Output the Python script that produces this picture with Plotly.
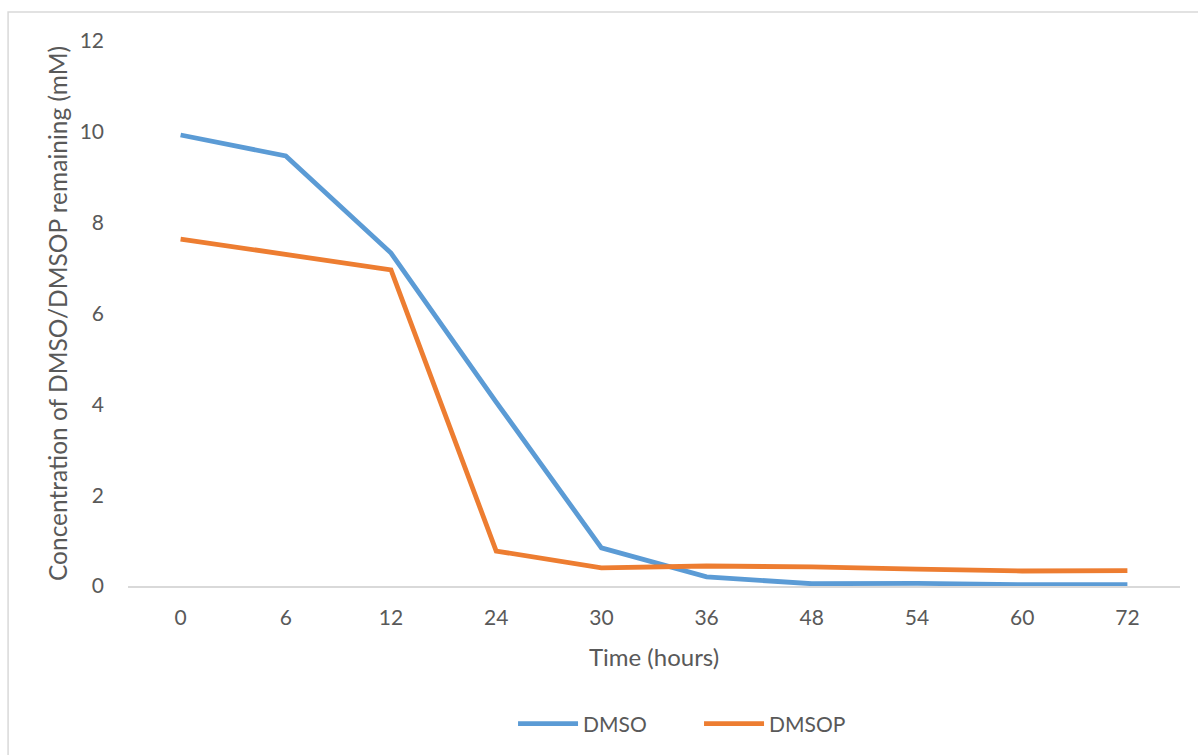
import plotly.graph_objects as go

# Sampling times (hours), shown as evenly spaced categories
time_labels = ["0", "6", "12", "24", "30", "36", "48", "54", "60", "72"]

# Remaining concentration (mM)
dmso = [9.93, 9.47, 7.33, 4.05, 0.84, 0.20, 0.05, 0.06, 0.03, 0.03]
dmsop = [7.64, 7.31, 6.96, 0.77, 0.40, 0.44, 0.42, 0.37, 0.33, 0.34]

FONT = "Lato"
TEXT = "#595959"
GRID = "#d9d9d9"

fig = go.Figure()
fig.add_trace(go.Scatter(x=time_labels, y=dmso, mode="lines", name="DMSO",
                         line=dict(color="#5B9BD5", width=4.8)))
fig.add_trace(go.Scatter(x=time_labels, y=dmsop, mode="lines", name="DMSOP",
                         line=dict(color="#ED7D31", width=4.8)))

fig.update_layout(
    width=1198, height=755,
    margin=dict(l=128, r=18, t=41, b=169, autoexpand=False),
    paper_bgcolor="white", plot_bgcolor="white",
    font=dict(family=FONT, color=TEXT, size=21),
    showlegend=True,
    legend=dict(orientation="h", x=0.366, xanchor="left", y=-0.253, yanchor="middle",
                font=dict(size=21, color=TEXT), itemwidth=60, tracegroupgap=0,
                entrywidth=111, entrywidthmode="pixels"),
    xaxis=dict(type="category", range=[-0.5, 9.5], showgrid=False, zeroline=False,
               showline=True, linecolor=GRID, linewidth=1.5,
               ticks="", tickfont=dict(size=21, color=TEXT), ticklabelstandoff=12,
               title=dict(text="Time (hours)", font=dict(size=24, color=TEXT), standoff=21),
               automargin=False),
    yaxis=dict(range=[0, 12], tickvals=[0, 2, 4, 6, 8, 10, 12], showgrid=False,
               zeroline=False, showline=False, ticks="",
               tickfont=dict(size=21, color=TEXT), ticklabelstandoff=23,
               title=dict(text="Concentration of DMSO/DMSOP remaining (mM)",
                          font=dict(size=24.5, color=TEXT), standoff=5),
               automargin=False),
    shapes=[dict(type="rect", xref="paper", yref="paper",
                 x0=-0.114, x1=1.05, y0=-0.35, y1=1.053,
                 line=dict(color=GRID, width=1.5), fillcolor="rgba(0,0,0,0)", layer="below")],
)

fig.write_html("out.html")
